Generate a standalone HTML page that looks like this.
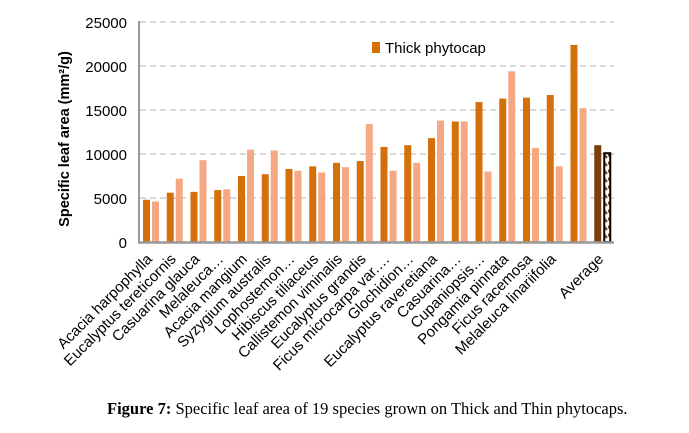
<!DOCTYPE html>
<html><head><meta charset="utf-8"><style>
body{margin:0;background:#fff;width:689px;height:433px;overflow:hidden}
svg{display:block}
text{font-family:"Liberation Sans",sans-serif}
text.cap{font-family:"Liberation Serif",serif}
</style></head><body>
<svg width="689" height="433" viewBox="0 0 689 433">
<defs>
<pattern id="h" width="4" height="8" patternUnits="userSpaceOnUse">
<rect width="4" height="8" fill="#fff"/>
<line x1="0" y1="2" x2="3" y2="6" stroke="#7a3e0a" stroke-width="2"/>
</pattern>
</defs>
<g stroke="#d9d9d9" stroke-width="2" stroke-dasharray="6,4">
<line x1="140" y1="22" x2="614" y2="22"/>
<line x1="140" y1="66" x2="614" y2="66"/>
<line x1="140" y1="110" x2="614" y2="110"/>
<line x1="140" y1="154" x2="614" y2="154"/>
<line x1="140" y1="198" x2="614" y2="198"/>
</g>
<g font-size="15" text-anchor="end" fill="#000">
<text x="127" y="28">25000</text>
<text x="127" y="72">20000</text>
<text x="127" y="116">15000</text>
<text x="127" y="160">10000</text>
<text x="127" y="204">5000</text>
<text x="127" y="248">0</text>
</g>
<text transform="translate(69,139) rotate(-90)" font-size="14.5" font-weight="bold" text-anchor="middle">Specific leaf area (mm²/g)</text>
<g id="bars"></g>
<line x1="139" y1="21" x2="139" y2="243" stroke="#999" stroke-width="2"/>
<line x1="138" y1="242.5" x2="614" y2="242.5" stroke="#999" stroke-width="2.5"/>
<rect x="372" y="42" width="8" height="11" fill="#d46f0a"/>
<text x="385" y="53" font-size="15">Thick phytocap</text>
<g id="labels" font-size="15" text-anchor="end"></g>
<text class="cap" x="107" y="414" font-size="16.5"><tspan font-weight="bold">Figure 7:</tspan> Specific leaf area of 19 species grown on Thick and Thin phytocaps.</text>
</svg>
<script>
var th=[4.8,5.6,5.7,5.9,7.5,7.7,8.3,8.6,9.0,9.2,10.8,11.0,11.8,13.7,15.9,16.3,16.4,16.7,22.4,11.0];
var tn=[4.6,7.2,9.3,6.0,10.5,10.4,8.1,7.9,8.5,13.4,8.1,9.0,13.8,13.7,8.0,19.4,10.7,8.6,15.2,10.2];
var names=["Acacia harpophylla","Eucalyptus tereticornis","Casuarina glauca","Melaleuca…","Acacia mangium","Syzygium australis","Lophostemon…","Hibiscus tiliaceus","Callistemon viminalis","Eucalyptus grandis","Ficus microcarpa var.…","Glochidion…","Eucalyptus raveretiana","Casuarina…","Cupaniopsis…","Pongamia pinnata","Ficus racemosa","Melaleuca linariifolia"];
var ns="http://www.w3.org/2000/svg",b=document.getElementById("bars"),L=document.getElementById("labels");
function r(x,y,w,h,f,s){var e=document.createElementNS(ns,"rect");e.setAttribute("x",x);e.setAttribute("y",y);e.setAttribute("width",w);e.setAttribute("height",h);e.setAttribute("fill",f);if(s){e.setAttribute("stroke",s);e.setAttribute("stroke-width",2);}b.appendChild(e);}
for(var i=0;i<20;i++){var g=139+23.75*i;var h1=th[i]*8.8,h2=tn[i]*8.8;
if(i<19){r(g+4,242-h1,7,h1,"#d46f0a");r(g+13,242-h2,7,h2,"#f5a883");}
else{r(g+4,242-h1,7,h1,"#7a3e0a");r(g+14,243-h2,6,h2-1,"url(#h)","#000");}}
function t(s,x){var e=document.createElementNS(ns,"text");e.setAttribute("transform","translate("+x+",260) rotate(-45)");e.textContent=s;L.appendChild(e);}
for(var i=0;i<18;i++)t(names[i],153+23.75*i);
t("Average",153+23.75*19);
</script>
</body></html>
